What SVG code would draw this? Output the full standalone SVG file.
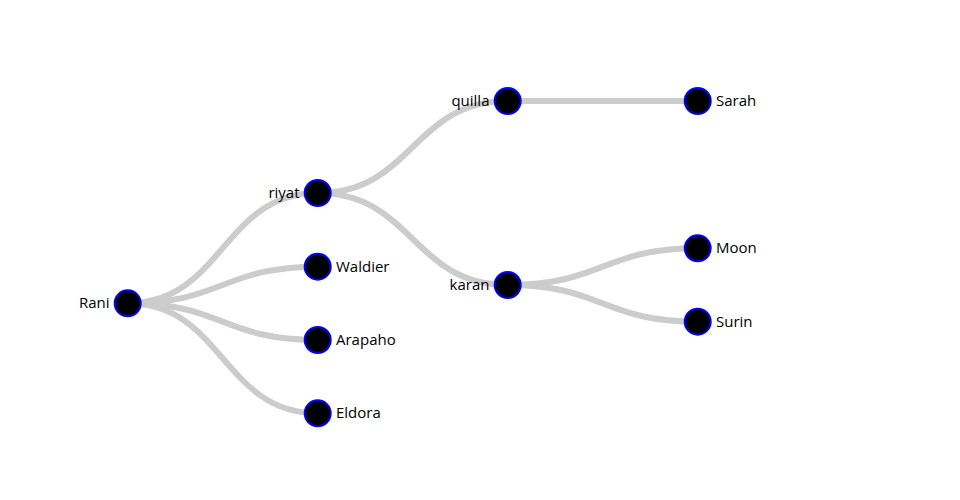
<svg xmlns="http://www.w3.org/2000/svg" width="960" height="500" viewBox="0 0 960 500">
<style>
.link{fill:none;stroke:#cccccc;stroke-width:6}
.node circle{fill:#000;stroke:#0000ff;stroke-width:2}
.node text{font-family:"Open Sans","Noto Sans",sans-serif;font-size:15px;fill:#000}
.l{text-anchor:end}
</style>
<rect width="960" height="500" fill="#fff"/>
<g id="links">
<path class="link" d="M127.7,303.3C222.7,303.3 222.7,193 317.7,193"/>
<path class="link" d="M127.7,303.3C222.7,303.3 222.7,266.7 317.7,266.7"/>
<path class="link" d="M127.7,303.3C222.7,303.3 222.7,340 317.7,340"/>
<path class="link" d="M127.7,303.3C222.7,303.3 222.7,413.3 317.7,413.3"/>
<path class="link" d="M317.7,193C412.7,193 412.7,101 507.7,101"/>
<path class="link" d="M317.7,193C412.7,193 412.7,285 507.7,285"/>
<path class="link" d="M507.7,101C602.7,101 602.7,101 697.7,101"/>
<path class="link" d="M507.7,285C602.7,285 602.7,248.3 697.7,248.3"/>
<path class="link" d="M507.7,285C602.7,285 602.7,321.7 697.7,321.7"/>
</g>
<g id="node-rani" class="node"><circle cx="127.7" cy="303.3" r="13"/><text class="l" x="109.5" y="308.3">Rani</text></g>
<g id="node-riyat" class="node"><circle cx="317.7" cy="193" r="13"/><text class="l" x="299.5" y="198">riyat</text></g>
<g id="node-waldier" class="node"><circle cx="317.7" cy="266.7" r="13"/><text x="336" y="271.7">Waldier</text></g>
<g id="node-arapaho" class="node"><circle cx="317.7" cy="340" r="13"/><text x="336" y="345">Arapaho</text></g>
<g id="node-eldora" class="node"><circle cx="317.7" cy="413.3" r="13"/><text x="336" y="418.3">Eldora</text></g>
<g id="node-quilla" class="node"><circle cx="507.7" cy="101" r="13"/><text class="l" x="489.5" y="106">quilla</text></g>
<g id="node-karan" class="node"><circle cx="507.7" cy="285" r="13"/><text class="l" x="489.5" y="290">karan</text></g>
<g id="node-sarah" class="node"><circle cx="697.7" cy="101" r="13"/><text x="716" y="106">Sarah</text></g>
<g id="node-moon" class="node"><circle cx="697.7" cy="248.3" r="13"/><text x="716" y="253.3">Moon</text></g>
<g id="node-surin" class="node"><circle cx="697.7" cy="321.7" r="13"/><text x="716" y="326.7">Surin</text></g>
</svg>
